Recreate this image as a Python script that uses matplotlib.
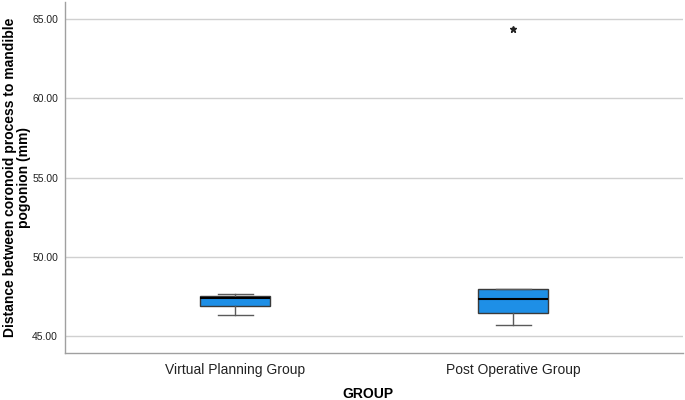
import matplotlib
matplotlib.use("Agg")
import matplotlib.pyplot as plt

plt.rcParams["font.family"] = ["Liberation Sans", "DejaVu Sans"]

groups = ["Virtual Planning Group", "Post Operative Group"]
whisker_low = [46.31, 45.67]
q1 = [46.91, 46.47]
median = [47.40, 47.31]
q3 = [47.54, 47.98]
whisker_high = [47.65, 47.98]
outliers = [[], [64.37]]
y_ticks = [45.0, 50.0, 55.0, 60.0, 65.0]

fig = plt.figure(figsize=(6.85, 4.0), dpi=100)
ax = fig.add_axes([65/685, 47/400, 618/685, 351/400])

stats = []
for i, g in enumerate(groups):
    stats.append(dict(label=g, whislo=whisker_low[i], q1=q1[i], med=median[i],
                      q3=q3[i], whishi=whisker_high[i], fliers=outliers[i]))

ax.bxp(stats, positions=[1, 2], widths=0.252, patch_artist=True,
       boxprops=dict(facecolor="#1E8FE6", edgecolor="#3a3a3a", linewidth=1.0),
       medianprops=dict(color="black", linewidth=1.5),
       whiskerprops=dict(color="#5a5a5a", linewidth=1.0),
       capprops=dict(color="#5a5a5a", linewidth=1.0),
       capwidths=0.125,
       flierprops=dict(marker="*", markersize=5, markerfacecolor="#222222",
                       markeredgecolor="#222222", linestyle="none"),
       zorder=3)

ax.set_xlim(0.388, 2.611)
ax.set_ylim(43.93, 66.07)
ax.set_yticks(y_ticks)
ax.set_yticklabels([f"{v:.2f}" for v in y_ticks], fontsize=7.5, color="#222222")
ax.tick_params(axis="y", length=0, pad=5)
ax.tick_params(axis="x", length=0, pad=7, labelsize=10, labelcolor="#222222")
ax.yaxis.grid(True, color="#d0d0d0", linewidth=1.0, zorder=0)
ax.set_axisbelow(True)

for s in ["top", "right"]:
    ax.spines[s].set_visible(False)
for s in ["left", "bottom"]:
    ax.spines[s].set_color("#a0a0a0")
    ax.spines[s].set_linewidth(1.0)

ax.set_xlabel("GROUP", fontsize=10, fontweight="bold")
ax.xaxis.set_label_coords(0.49, -0.097)
ax.set_ylabel("Distance between coronoid process to mandible\npogonion (mm)",
              fontsize=10, fontweight="bold", linespacing=1.0)
ax.yaxis.set_label_coords(-0.055, 0.5)

fig.savefig("out.png", dpi=100)
